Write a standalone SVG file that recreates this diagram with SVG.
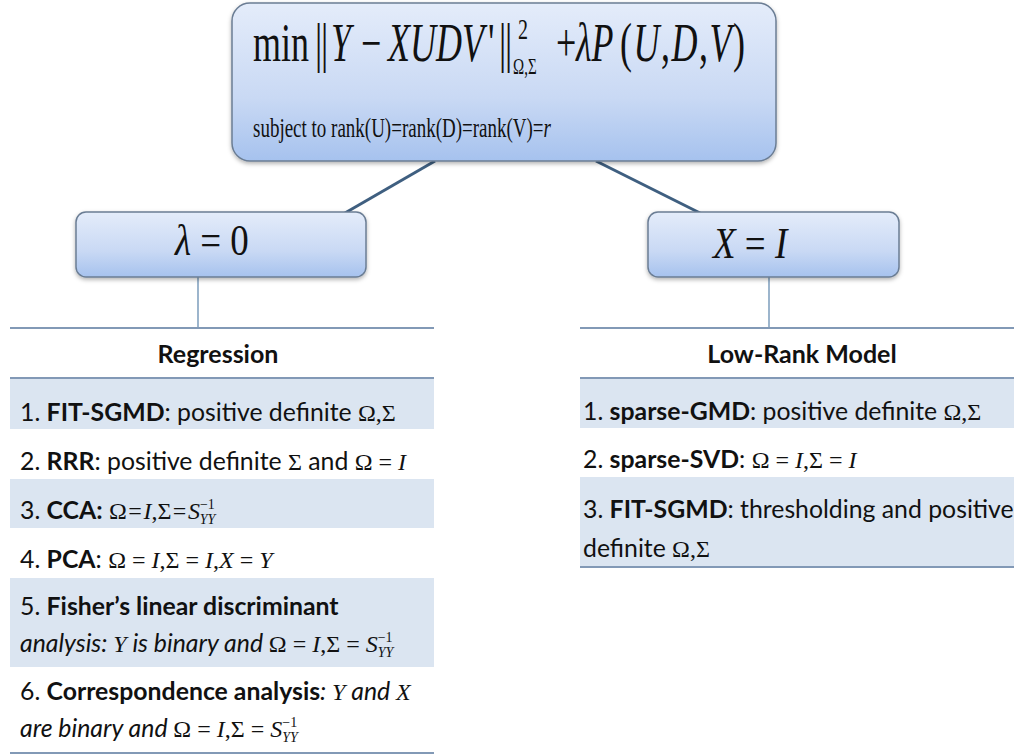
<svg xmlns="http://www.w3.org/2000/svg" width="1014" height="755" viewBox="0 0 1014 755">
<defs>
<linearGradient id="bg" x1="0" y1="0" x2="0" y2="1">
<stop offset="0" stop-color="#e4ecfa"/>
<stop offset="0.6" stop-color="#c9d9f4"/>
<stop offset="1" stop-color="#a6c2ee"/>
</linearGradient>
<filter id="sh" x="-5%" y="-5%" width="110%" height="120%">
<feDropShadow dx="0" dy="2" stdDeviation="2" flood-color="#000" flood-opacity="0.3"/>
</filter>
<style>
.box{fill:url(#bg);stroke:#6b7d94;stroke-width:1.5;filter:url(#sh)}
.conn{stroke:#3f5f80;stroke-width:3;fill:none}
.thin{stroke:#5b84ab;stroke-width:1.2;fill:none}
.rule{stroke:#8299b6;stroke-width:2;fill:none}
.band{fill:#dbe5f1}
.t{font-family:Lato,"Liberation Sans",sans-serif;font-size:24.8px;fill:#111}
.b{font-weight:bold}
.i{font-style:italic}
.m{font-family:"Liberation Serif",serif;font-size:24px;font-style:normal;font-weight:normal}
.mi{font-family:"Liberation Serif",serif;font-style:italic;font-weight:normal}
.s{font-family:"Liberation Serif",serif;font-size:14px;font-style:normal;font-weight:normal}
.si{font-family:"Liberation Serif",serif;font-size:14px;font-style:italic;font-weight:normal}
.h{font-family:Lato,"Liberation Sans",sans-serif;font-size:25px;font-weight:bold;fill:#111;text-anchor:middle}
.f{font-family:"Liberation Serif",serif;fill:#111}
</style>
</defs>
<rect width="1014" height="755" fill="#fff"/>

<g id="connectors">
<line class="conn" x1="435" y1="161" x2="345" y2="213"/>
<line class="conn" x1="596" y1="161" x2="700" y2="213"/>
<line class="thin" x1="198" y1="277" x2="198" y2="328"/>
<line class="thin" x1="769" y1="277" x2="769" y2="328"/>
</g>

<g id="objective">
<rect class="box" x="232" y="3" width="544" height="158" rx="18"/>
<g transform="translate(0,61) scale(1,1.5)" class="f" font-size="36">
<text x="253" y="0">min</text>
<text x="315" y="0">|</text><text x="321" y="0">|</text>
<text x="331" y="0" class="mi">Y</text>
<text x="361" y="0">−</text>
<text x="388" y="0" class="mi">XUDV</text>
<text x="488" y="0">'</text>
<text x="499" y="0">|</text><text x="505" y="0">|</text>
<text x="518" y="-15" font-size="20">2</text>
<text x="513" y="8.5" font-size="15">Ω,Σ</text>
<text x="556" y="0">+</text>
<text x="576" y="0" class="mi">λP</text>
<text x="620" y="0" letter-spacing="1.5">(<tspan class="mi">U</tspan>,<tspan class="mi">D</tspan>,<tspan class="mi">V</tspan>)</text>
</g>
<g transform="translate(0,137) scale(1,1.45)" class="f" font-size="19">
<text x="253" y="0">subject to rank(U)=rank(D)=rank(V)=<tspan class="mi">r</tspan></text>
</g>
</g>

<g id="lambda0">
<rect class="box" x="76" y="212" width="290" height="65" rx="10"/>
<g transform="translate(0,255) scale(1,1.2)" class="f" font-size="37">
<text x="175" y="0"><tspan class="mi">λ</tspan> = 0</text>
</g>
</g>

<g id="xeqi">
<rect class="box" x="648" y="212" width="251" height="65" rx="10"/>
<g transform="translate(0,258) scale(1,1.2)" class="f" font-size="37">
<text x="713" y="0"><tspan class="mi">X</tspan> = <tspan class="mi">I</tspan></text>
</g>
</g>

<g id="regression">
<rect class="band" x="10" y="378" width="424" height="51"/>
<rect class="band" x="10" y="479" width="424" height="49"/>
<rect class="band" x="10" y="578" width="424" height="89"/>
<line class="rule" x1="10" y1="328" x2="434" y2="328"/>
<line class="rule" x1="10" y1="378" x2="434" y2="378"/>
<line class="rule" x1="10" y1="753" x2="434" y2="753"/>
<text class="h" x="218" y="363">Regression</text>
<text class="t" x="20" y="421">1. <tspan class="b">FIT-SGMD</tspan>: positive definite <tspan class="m">Ω,Σ</tspan></text>
<text class="t" x="20" y="470">2. <tspan class="b">RRR</tspan>: positive  definite <tspan class="m">Σ</tspan> and <tspan class="m">Ω = </tspan><tspan class="m mi">I</tspan></text>
<text class="t" x="20" y="519">3. <tspan class="b">CCA:</tspan> <tspan class="m">Ω</tspan><tspan class="m" dx="1.5">=</tspan><tspan class="m mi" dx="1.5">I</tspan><tspan class="m">,Σ</tspan><tspan class="m" dx="1.5">=</tspan><tspan class="m mi" dx="1.5">S</tspan><tspan class="s" dy="-10">−1</tspan><tspan class="si" dx="-15" dy="15">YY</tspan></text>
<text class="t" x="20" y="568">4. <tspan class="b">PCA</tspan>: <tspan class="m">Ω = </tspan><tspan class="m mi">I</tspan><tspan class="m">,Σ = </tspan><tspan class="m mi">I</tspan><tspan class="m">,</tspan><tspan class="m mi">X</tspan><tspan class="m"> = </tspan><tspan class="m mi">Y</tspan></text>
<text class="t" x="20" y="615">5. <tspan class="b">Fisher’s linear discriminant</tspan></text>
<text class="t i" x="20" y="652">analysis: <tspan class="m mi">Y</tspan> is binary and <tspan class="m">Ω = </tspan><tspan class="m mi">I</tspan><tspan class="m">,Σ = </tspan><tspan class="m mi">S</tspan><tspan class="s" dy="-10">−1</tspan><tspan class="si" dx="-15" dy="15">YY</tspan></text>
<text class="t" x="20" y="700">6. <tspan class="b">Correspondence analysis</tspan><tspan class="i">: </tspan><tspan class="m mi">Y</tspan><tspan class="i"> and </tspan><tspan class="m mi">X</tspan></text>
<text class="t i" x="20" y="737">are binary and <tspan class="m">Ω = </tspan><tspan class="m mi">I</tspan><tspan class="m">,Σ = </tspan><tspan class="m mi">S</tspan><tspan class="s" dy="-10">−1</tspan><tspan class="si" dx="-15" dy="15">YY</tspan></text>
</g>

<g id="lowrank">
<rect class="band" x="580" y="378" width="434" height="50"/>
<rect class="band" x="580" y="477" width="434" height="90"/>
<line class="rule" x1="580" y1="328" x2="1014" y2="328"/>
<line class="rule" x1="580" y1="378" x2="1014" y2="378"/>
<line class="rule" x1="580" y1="567" x2="1014" y2="567"/>
<text class="h" x="802" y="363">Low-Rank Model</text>
<text class="t" x="583" y="420">1. <tspan class="b">sparse-GMD</tspan>: positive definite <tspan class="m">Ω,Σ</tspan></text>
<text class="t" x="583" y="468">2. <tspan class="b">sparse-SVD</tspan>:  <tspan class="m">Ω = </tspan><tspan class="m mi">I</tspan><tspan class="m">,Σ = </tspan><tspan class="m mi">I</tspan></text>
<text class="t" x="583" y="518">3. <tspan class="b">FIT-SGMD</tspan>: thresholding and positive</text>
<text class="t" x="583" y="557">definite  <tspan class="m">Ω,Σ</tspan></text>
</g>
</svg>
